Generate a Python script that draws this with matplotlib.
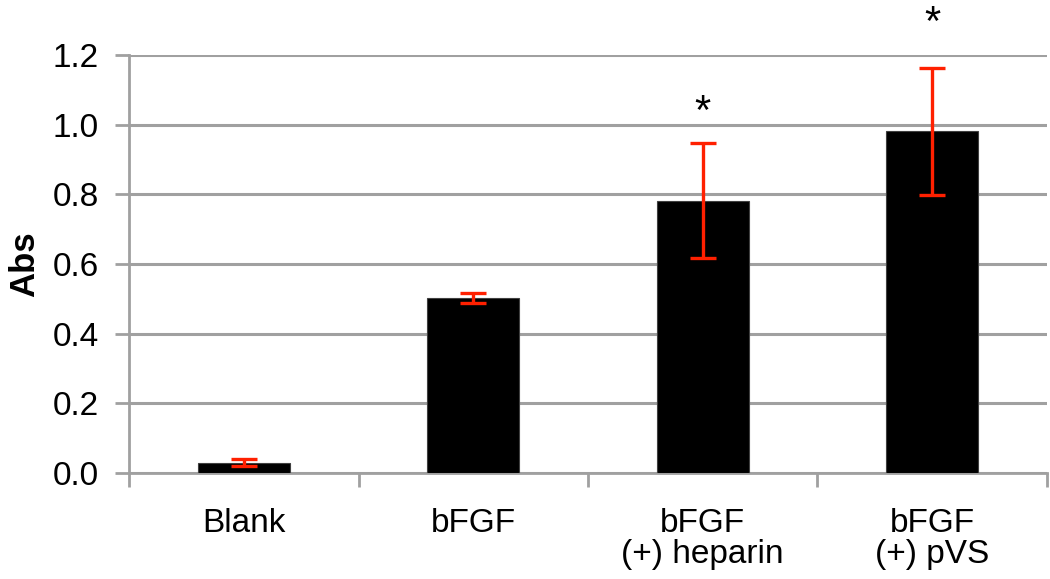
import numpy as np
import matplotlib.pyplot as plt

plt.rcParams['font.family'] = ['Liberation Sans', 'DejaVu Sans']

# values
groups = ['Blank', 'bFGF', 'bFGF\n(+) heparin', 'bFGF\n(+) pVS']
absorb = [0.03, 0.503, 0.781, 0.981]
errs = [0.01, 0.015, 0.165, 0.182]
stars = ['', '', '*', '*']
star_y = [0, 0, 1.035, 1.29]

grid_col = '#a0a0a0'

fig = plt.figure(figsize=(10.5, 5.79), dpi=100)
ax = fig.add_axes([0.123, 0.183, 0.874, 0.722])

x = np.arange(len(groups))
ax.bar(x, absorb, width=0.4, color='black', edgecolor='#404040', linewidth=0.8, zorder=3)
ax.errorbar(x, absorb, yerr=errs, fmt='none', ecolor='#ff2000', elinewidth=2.4,
            capsize=9.5, capthick=2.4, zorder=4)

for xi, sy, s in zip(x, star_y, stars):
    if s:
        ax.text(xi, sy, s, ha='center', va='center', fontsize=30,
                clip_on=False)

ax.set_xlim(-0.5, len(groups) - 0.5)
ax.set_ylim(0, 1.2)
ax.set_yticks(np.arange(0, 1.21, 0.2))
ax.set_yticklabels(['%.1f' % t for t in np.arange(0, 1.21, 0.2)])
ax.yaxis.grid(True, color=grid_col, linewidth=2.2, zorder=0)
ax.set_axisbelow(True)

ax.set_xticks(x)
ax.set_xticklabels(groups, fontsize=24, linespacing=1.0)
ax.set_xticks(np.arange(-0.5, len(groups)), minor=True)
ax.tick_params(axis='x', which='major', length=0, pad=25)
ax.tick_params(axis='x', which='minor', length=10, width=2, color=grid_col)
ax.tick_params(axis='y', which='major', length=10, width=2, color=grid_col,
               labelsize=24, pad=12)

for side in ['top', 'right']:
    ax.spines[side].set_visible(False)
ax.spines['left'].set_color(grid_col)
ax.spines['left'].set_linewidth(2)
ax.spines['bottom'].set_color(grid_col)
ax.spines['bottom'].set_linewidth(2)

ax.set_ylabel('Abs', fontsize=25, fontweight='bold', labelpad=8)

fig.savefig('out.png', dpi=100)
